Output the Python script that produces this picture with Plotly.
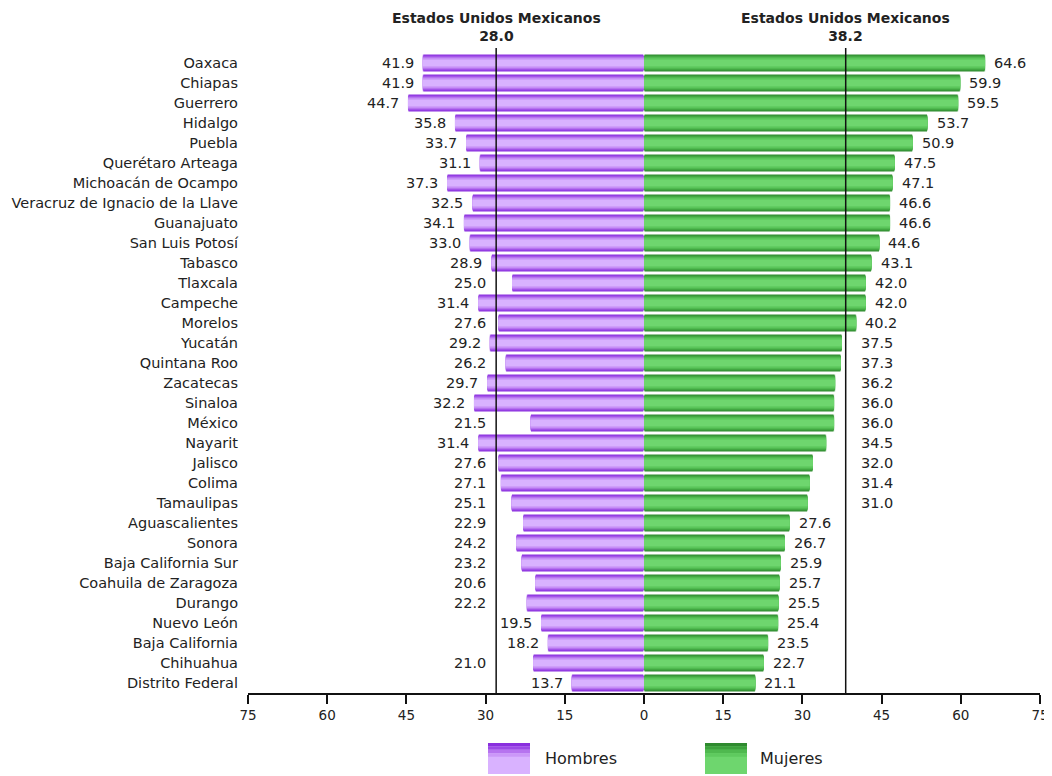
import plotly.graph_objects as go

states = ["Oaxaca", "Chiapas", "Guerrero", "Hidalgo", "Puebla", "Querétaro Arteaga",
          "Michoacán de Ocampo", "Veracruz de Ignacio de la Llave", "Guanajuato",
          "San Luis Potosí", "Tabasco", "Tlaxcala", "Campeche", "Morelos", "Yucatán",
          "Quintana Roo", "Zacatecas", "Sinaloa", "México", "Nayarit", "Jalisco",
          "Colima", "Tamaulipas", "Aguascalientes", "Sonora", "Baja California Sur",
          "Coahuila de Zaragoza", "Durango", "Nuevo León", "Baja California",
          "Chihuahua", "Distrito Federal"]
hombres = [41.9, 41.9, 44.7, 35.8, 33.7, 31.1, 37.3, 32.5, 34.1, 33.0, 28.9, 25.0,
           31.4, 27.6, 29.2, 26.2, 29.7, 32.2, 21.5, 31.4, 27.6, 27.1, 25.1, 22.9,
           24.2, 23.2, 20.6, 22.2, 19.5, 18.2, 21.0, 13.7]
mujeres = [64.6, 59.9, 59.5, 53.7, 50.9, 47.5, 47.1, 46.6, 46.6, 44.6, 43.1, 42.0,
           42.0, 40.2, 37.5, 37.3, 36.2, 36.0, 36.0, 34.5, 32.0, 31.4, 31.0, 27.6,
           26.7, 25.9, 25.7, 25.5, 25.4, 23.5, 22.7, 21.1]
nacional_label = "Estados Unidos Mexicanos"
nacional_hombres = 28.0
nacional_mujeres = 38.2
series_names = ["Hombres", "Mujeres"]
tick_vals = [-75, -60, -45, -30, -15, 0, 15, 30, 45, 60, 75]

FONT = "DejaVu Sans"
TXT = "#222222"
LBL = 14.5

purple_layers = ["#8a2fde", "#9c4ae6", "#b673ef", "#cb97f8", "#d9b2ff"]
green_layers = ["#2f8a2f", "#3ea23e", "#4fb94f", "#5fca5f", "#6ed66e"]
widths = [0.9, 0.76, 0.62, 0.48, 0.32]

fig = go.Figure()
for i, (w, cp, cg) in enumerate(zip(widths, purple_layers, green_layers)):
    line = dict(color="white", width=1) if i == 0 else dict(width=0)
    fig.add_trace(go.Bar(y=states, x=[-v for v in hombres], orientation="h", width=w,
                         marker=dict(color=cp, line=line), hoverinfo="skip",
                         showlegend=False))
    fig.add_trace(go.Bar(y=states, x=mujeres, orientation="h", width=w,
                         marker=dict(color=cg, line=line), hoverinfo="skip",
                         showlegend=False))

annotations = []
LW = 6.0  # approx label width in data units
PAD = 1.0
lf = dict(family=FONT, size=LBL, color=TXT)
for s, h, m in zip(states, hombres, mujeres):
    if h < nacional_hombres and h + 1.2 + LW > nacional_hombres - PAD:
        annotations.append(dict(x=-nacional_hombres, y=s, text=f"{h:.1f}", xanchor="right",
                                xshift=-8, showarrow=False, font=lf))
    else:
        annotations.append(dict(x=-h, y=s, text=f"{h:.1f}", xanchor="right",
                                xshift=-7, showarrow=False, font=lf))
    if m < nacional_mujeres and m + 1.2 + LW > nacional_mujeres - PAD:
        annotations.append(dict(x=nacional_mujeres, y=s, text=f"{m:.1f}", xanchor="left",
                                xshift=13, showarrow=False, font=lf))
    else:
        annotations.append(dict(x=m, y=s, text=f"{m:.1f}", xanchor="left",
                                xshift=7, showarrow=False, font=lf))

for xv, v in [(-nacional_hombres, nacional_hombres), (nacional_mujeres, nacional_mujeres)]:
    annotations.append(dict(x=xv, y=1, xref="x", yref="paper", yanchor="bottom", yshift=7,
                            text=f"<b>{nacional_label}</b><br><b>{v:.1f}</b>", showarrow=False,
                            font=dict(family=FONT, size=14, color=TXT)))

shapes = []
for xv in [-nacional_hombres, nacional_mujeres]:
    shapes.append(dict(type="line", xref="x", yref="paper", x0=xv, x1=xv, y0=0, y1=1.008,
                       line=dict(color="#111111", width=1.5)))

# custom legend with gradient boxes (page pixel -> paper coords)
PX0, PW, PY0, PH = 248, 792, 693, 640
def px(x): return (x - PX0) / PW
def py(y): return (PY0 - y) / PH
legend_items = [(488, 530, 543, series_names[0], purple_layers),
                (705, 747, 758, series_names[1], green_layers)]
for x0, x1, tx, name, cols in legend_items:
    top, bot = 743, 774
    n = len(cols)
    shapes.append(dict(type="rect", xref="paper", yref="paper", x0=px(x0), x1=px(x1),
                       y0=py(bot), y1=py(top), fillcolor=cols[-1], line=dict(width=0), layer="above"))
    band_h = (bot - top) * 0.55 / n
    for k, c in enumerate(cols[:-1]):
        shapes.append(dict(type="rect", xref="paper", yref="paper", x0=px(x0), x1=px(x1),
                           y0=py(top + (k + 1) * band_h), y1=py(top + k * band_h),
                           fillcolor=c, line=dict(width=0), layer="above"))
    annotations.append(dict(x=px(tx), y=py((top + bot) / 2), xref="paper", yref="paper",
                            xanchor="left", yanchor="middle", text=name, showarrow=False,
                            font=dict(family=FONT, size=16, color=TXT)))

fig.update_layout(
    width=1044, height=768,
    margin=dict(l=240, r=12, t=45, b=83),
    barmode="overlay",
    plot_bgcolor="white", paper_bgcolor="white",
    annotations=annotations, shapes=shapes,
    showlegend=False,
    xaxis=dict(range=[-75, 75], tickvals=tick_vals, ticktext=[str(abs(t)) for t in tick_vals],
               showgrid=False, zeroline=False, showline=True, linecolor="#111111", linewidth=1.5,
               ticks="outside", ticklen=9, tickcolor="#111111", tickwidth=1.5, automargin=False,
               tickfont=dict(family=FONT, size=13.5, color=TXT), fixedrange=True),
    yaxis=dict(categoryorder="array", categoryarray=states, range=[len(states) - 0.5, -0.5],
               showgrid=False, zeroline=False, showline=False, ticks="",
               ticklabelstandoff=9, automargin=False,
               tickfont=dict(family=FONT, size=LBL, color=TXT), fixedrange=True),
)

fig.write_html("out.html")
